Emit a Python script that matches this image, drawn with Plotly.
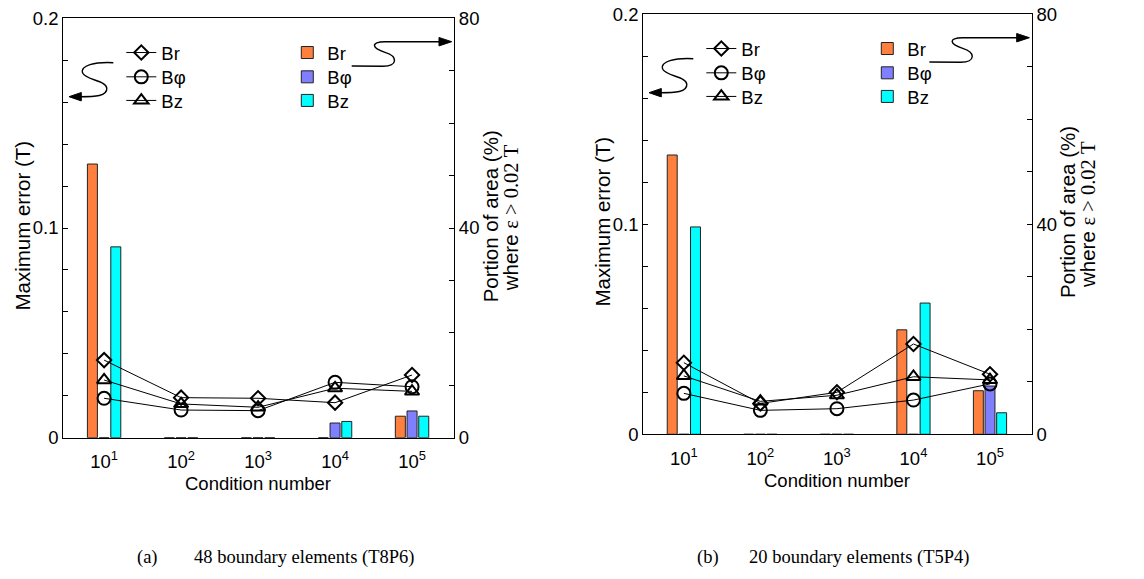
import numpy as np
import plotly.graph_objects as go

W, H = 1144, 579

# ---- data -------------------------------------------------------------
condition_numbers = [1e1, 1e2, 1e3, 1e4, 1e5]
tick_labels = ["10<sup>1</sup>", "10<sup>2</sup>", "10<sup>3</sup>",
               "10<sup>4</sup>", "10<sup>5</sup>"]
components = ["Br", "Bφ", "Bz"]

# (a) 48 boundary elements (T8P6): maximum error (T)
err_a_br = [0.0370, 0.0191, 0.0188, 0.0167, 0.0299]
err_a_bphi = [0.0188, 0.0132, 0.0129, 0.0264, 0.0243]
err_a_bz = [0.0275, 0.0161, 0.0145, 0.0236, 0.0221]
# (a) portion of area (%) where error > 0.02 T
area_a_br = [52.2, 0.0, 0.0, 0.0, 4.1]
area_a_bphi = [0.0, 0.0, 0.0, 2.8, 5.1]
area_a_bz = [36.4, 0.0, 0.0, 3.1, 4.1]

# (b) 20 boundary elements (T5P4): maximum error (T)
err_b_br = [0.0341, 0.0147, 0.0200, 0.0430, 0.0286]
err_b_bphi = [0.0195, 0.0114, 0.0122, 0.0163, 0.0240]
err_b_bz = [0.0278, 0.0157, 0.0186, 0.0274, 0.0259]
# (b) portion of area (%) where error > 0.02 T
area_b_br = [53.2, 0.0, 0.0, 19.9, 8.3]
area_b_bphi = [0.0, 0.0, 0.0, 0.0, 9.2]
area_b_bz = [39.5, 0.0, 0.0, 25.0, 4.1]

# ---- styling -----------------------------------------------------------
SANS = "Liberation Sans"
SERIF = "Liberation Serif"
FS = 18.5
BAR_COLORS = ["#FF7F3F", "#7F7FFF", "#00FFFF"]
SYMBOLS = ["diamond-open", "circle-open", "triangle-up-open"]
SYM_SIZES = [11, 13, 12.5]

# plot areas in pixels (left, right, top, bottom)
PANELS = [
    dict(l=63.3, r=454.0, t=18.3, b=437.7),
    dict(l=643.3, r=1031.7, t=14.3, b=434.3),
]
LEGEND_ROWS = [34.7, 59.0, 82.6]   # row centres below the plot top (px)

xpos = np.log10(condition_numbers)
XR = [0.47, 5.545]
BAR_STEP = 0.152
BAR_W = 0.13


def px(x, y):
    return x / W, 1 - y / H


fig = go.Figure()

panel_data = [
    ([err_a_br, err_a_bphi, err_a_bz], [area_a_br, area_a_bphi, area_a_bz]),
    ([err_b_br, err_b_bphi, err_b_bz], [area_b_br, area_b_bphi, area_b_bz]),
]

layout_extra = {}
shapes = []
annotations = []
legend_count = 0


def new_legend(x, y):
    global legend_count
    legend_count += 1
    key = "legend" if legend_count == 1 else f"legend{legend_count}"
    a, b = px(x, y)
    layout_extra[key] = dict(
        x=a, y=b, xanchor="left", yanchor="middle",
        bgcolor="rgba(0,0,0,0)", borderwidth=0,
        font=dict(family=SANS, size=FS, color="black"),
        itemclick=False, itemdoubleclick=False,
    )
    return key


for k, (errs, areas) in enumerate(panel_data):
    p = PANELS[k]
    L, R, T = p["l"], p["r"], p["t"]
    xa = "x" if k == 0 else "x2"
    ya_area = "y" if k == 0 else "y3"      # right axis (bars), base layer
    ya_err = "y2" if k == 0 else "y4"      # left axis (lines), drawn on top

    for i, name in enumerate(components):
        fig.add_trace(go.Bar(
            x=xpos, y=areas[i], name=name, xaxis=xa, yaxis=ya_area,
            width=BAR_W, offset=(i - 1) * BAR_STEP - BAR_W / 2,
            marker=dict(color=BAR_COLORS[i], line=dict(color="#222222", width=1)),
            legend=new_legend(L + 224, T + LEGEND_ROWS[i]), showlegend=True,
        ))
    for i, name in enumerate(components):
        fig.add_trace(go.Scatter(
            x=xpos, y=errs[i], name=name, xaxis=xa, yaxis=ya_err,
            mode="lines+markers",
            line=dict(color="black", width=1),
            marker=dict(symbol=SYMBOLS[i], size=SYM_SIZES[i], color="black",
                        line=dict(width=2, color="black")),
            legend=new_legend(L + 58, T + LEGEND_ROWS[i]), showlegend=True,
        ))

    xd = [L / W, R / W]
    yd = [1 - p["b"] / H, 1 - T / H]
    xkey = "xaxis" if k == 0 else "xaxis2"
    ykey_area = "yaxis" if k == 0 else "yaxis3"
    ykey_err = "yaxis2" if k == 0 else "yaxis4"

    tickfont = dict(family=SANS, size=FS, color="black")
    layout_extra[xkey] = dict(
        domain=xd, range=XR, anchor=ya_area, showgrid=False, zeroline=False,
        showline=True, linecolor="black", linewidth=1.3, mirror=True,
        ticks="", tickvals=list(xpos), ticktext=tick_labels,
        tickfont=tickfont, ticklabelstandoff=7, automargin=False,
    )
    layout_extra[ykey_area] = dict(
        domain=yd, range=[0, 80], anchor=xa, side="right",
        showgrid=False, zeroline=False, showline=True, linecolor="black",
        linewidth=1.3, ticks="inside", ticklen=5, tickwidth=1, tickcolor="black",
        tickvals=[0, 40, 80], ticktext=["0", "40", "80"],
        minor=dict(dtick=10, ticks="inside", ticklen=5, tickwidth=1,
                   tickcolor="black", showgrid=False),
        tickfont=tickfont, automargin=False,
    )
    layout_extra[ykey_err] = dict(
        domain=yd, range=[0, 0.2], anchor=xa, side="left", overlaying=ya_area,
        showgrid=False, zeroline=False, showline=True, linecolor="black",
        linewidth=1.3, ticks="inside", ticklen=5, tickwidth=1, tickcolor="black",
        tickvals=[0, 0.1, 0.2], ticktext=["0", "0.1", "0.2"],
        minor=dict(dtick=0.02, ticks="inside", ticklen=5, tickwidth=1,
                   tickcolor="black", showgrid=False),
        tickfont=tickfont, automargin=False,
    )

    # curved pointer arrows (left: to error axis, right: to area axis)
    def pt(x, y):
        a, b = px(x, y)
        return f"{a:.5f},{b:.5f}"

    left_path = (
        f"M{pt(L + 50, T + 44.4)} "
        f"C{pt(L + 32, T + 43.5)} {pt(L + 16, T + 47)} {pt(L + 19.5, T + 55)} "
        f"C{pt(L + 23, T + 62)} {pt(L + 43, T + 62)} {pt(L + 43.5, T + 70)} "
        f"C{pt(L + 44, T + 78)} {pt(L + 32, T + 78.4)} {pt(L + 16, T + 78.4)}"
    )
    shapes.append(dict(type="path", xref="paper", yref="paper", path=left_path,
                       line=dict(color="black", width=1.4)))
    shapes.append(dict(type="path", xref="paper", yref="paper",
                       path=f"M{pt(L + 5.7, T + 78.4)} L{pt(L + 18, T + 74.2)} "
                            f"L{pt(L + 18, T + 82.6)} Z",
                       fillcolor="black", line=dict(color="black", width=1)))

    right_path = (
        f"M{pt(R - 102.3, T + 47.7)} L{pt(R - 71, T + 48)} "
        f"C{pt(R - 56, T + 47.7)} {pt(R - 56, T + 38)} {pt(R - 69, T + 34)} "
        f"C{pt(R - 82, T + 30)} {pt(R - 84, T + 23.7)} {pt(R - 69, T + 23.5)} "
        f"L{pt(R - 13, T + 23.4)}"
    )
    shapes.append(dict(type="path", xref="paper", yref="paper", path=right_path,
                       line=dict(color="black", width=1.4)))
    shapes.append(dict(type="path", xref="paper", yref="paper",
                       path=f"M{pt(R - 2.3, T + 23.4)} L{pt(R - 15, T + 19.2)} "
                            f"L{pt(R - 15, T + 27.6)} Z",
                       fillcolor="black", line=dict(color="black", width=1)))

    # axis titles
    def ann(x, y, text, size=FS, angle=0, family=SANS):
        a, b = px(x, y)
        annotations.append(dict(
            x=a, y=b, xref="paper", yref="paper", text=text, showarrow=False,
            textangle=angle, xanchor="center", yanchor="middle",
            font=dict(family=family, size=size, color="black"),
        ))

    ann((L + R) / 2 - 1, p["b"] + 46, "Condition number")
    ann(L - 41, T + 207, "Maximum error (T)", size=20.5, angle=-90)
    ann(R + 36, T + 198, "Portion of area (%)", size=20.5, angle=-90)
    ann(R + 56, T + 200,
        f'where <span style="font-family:{SERIF}">ε &gt; 0.02 T</span>',
        size=20.5, angle=-90)

# captions
for x0, x1, tag, text in [(135, 191.7, "(a)", "48 boundary elements (T8P6)"),
                          (695, 746.7, "(b)", "20 boundary elements (T5P4)")]:
    for xx, tt in [(x0, tag), (x1, text)]:
        a, b = px(xx, 557)
        annotations.append(dict(
            x=a, y=b, xref="paper", yref="paper", text=tt, showarrow=False,
            xanchor="left", yanchor="middle",
            font=dict(family=SERIF, size=18.5, color="black"),
        ))

fig.update_layout(
    template="none",
    width=W, height=H, margin=dict(l=0, r=0, t=0, b=0, pad=0, autoexpand=False),
    paper_bgcolor="white", plot_bgcolor="rgba(0,0,0,0)",
    barmode="overlay", showlegend=True,
    shapes=shapes, annotations=annotations,
    font=dict(family=SANS, size=FS, color="black"),
    **layout_extra,
)

fig.write_html("out.html")
